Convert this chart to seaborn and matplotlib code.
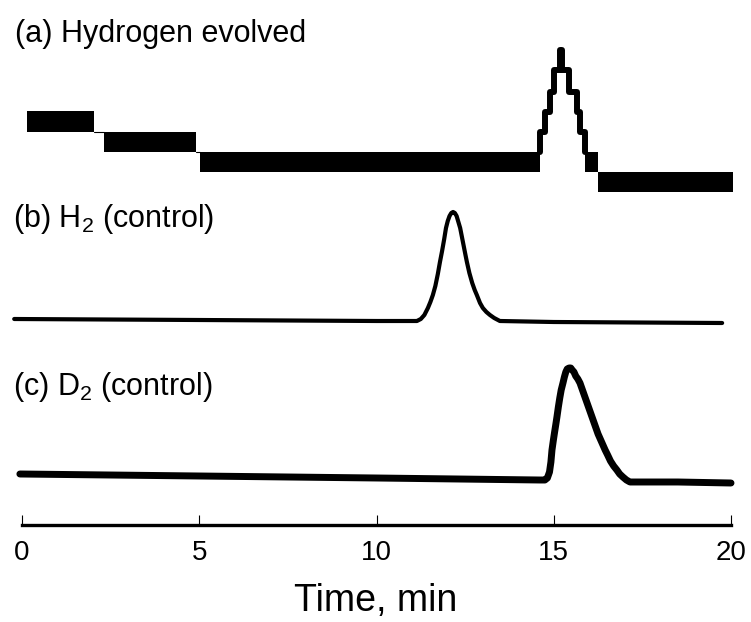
# chromatograms: evolved hydrogen vs H2 / D2 controls

import matplotlib
matplotlib.use("Agg")
import matplotlib.pyplot as plt
import numpy as np
import pandas as pd
import seaborn as sns

# (a) hydrogen evolved -- flickering display, drawn as bands + a step peak
band_start = [0.14, 2.31, 5.02, 15.88, 16.25]
band_end = [2.03, 4.91, 14.61, 16.25, 20.05]
band_low = [60, 40, 20, 20, 0]
band_high = [81, 60, 40, 40, 20]
peak_a_t = [14.61, 14.61, 14.75, 14.89, 15.01, 15.19, 15.24, 15.43, 15.66, 15.74, 15.88]
peak_a_y = [40, 60, 80, 100, 122, 142, 122, 100, 80, 60, 40]
offset_a = 333

# (b) H2 control
h2_t = [-0.22, 5, 10, 11.14, 11.25, 11.35, 11.45, 11.52, 11.59, 11.66, 11.73, 11.79,
        11.85, 11.91, 11.96, 12.01, 12.06, 12.11, 12.16, 12.21, 12.26, 12.31, 12.36,
        12.41, 12.46, 12.51, 12.55, 12.62, 12.7, 12.77, 12.83, 12.92, 13.0, 13.1,
        13.2, 13.32, 13.48, 15, 19.75]
h2_sig = [2, 1, 0, 0, 2, 6, 13, 19, 26, 35, 47, 59,
          70, 82, 93, 100, 105, 108, 109, 108, 105, 99, 93,
          84, 75, 66, 59, 48, 38, 31, 26, 18, 13, 9,
          6, 3, 0, -1, -2]
offset_b = 204

# (c) D2 control
d2_t = [-0.06, 5, 10, 14.6, 14.75, 14.82, 14.88, 14.92, 14.95, 14.99, 15.02, 15.06,
        15.09, 15.13, 15.17, 15.21, 15.26, 15.3, 15.34, 15.38, 15.43, 15.48, 15.52,
        15.57, 15.62, 15.68, 15.74, 15.82, 15.9, 15.99, 16.08, 16.16, 16.25, 16.35,
        16.45, 16.52, 16.6, 16.69, 16.78, 16.86, 16.95, 17.05, 17.15, 18.5, 20]
d2_sig = [6, 4, 2, 0, 0, 2, 8, 18, 30, 40, 47, 56,
          63, 73, 82, 90, 97, 103, 108, 111, 112, 112, 110,
          108, 104, 101, 97, 89, 81, 72, 63, 55, 46, 38,
          30, 25, 19, 14, 10, 6, 3, 0, -2, -2, -3]
offset_c = 45

labels = [r"(a) Hydrogen evolved", r"(b) H$_2$ (control)", r"(c) D$_2$ (control)"]
label_x = [-0.2, -0.25, -0.25]
label_y = [483, 298, 130]

ticks = [0, 5, 10, 15, 20]

sns.set_style("white")
plt.rcParams["font.family"] = ["Liberation Sans", "DejaVu Sans"]
plt.rcParams["mathtext.fontset"] = "custom"
plt.rcParams["mathtext.rm"] = "Liberation Sans"
plt.rcParams["mathtext.default"] = "rm"
plt.rcParams["text.color"] = "black"
plt.rcParams["axes.labelcolor"] = "black"
plt.rcParams["xtick.color"] = "black"

fig = plt.figure(figsize=(7.51, 6.22), dpi=100)
ax = fig.add_axes([0, 97 / 622, 1, 525 / 622])

# trace a
for s, e, lo, hi in zip(band_start, band_end, band_low, band_high):
    ax.fill_between([s, e], offset_a + lo, offset_a + hi, color="black", lw=0)
ax.plot([2.03, 2.31], [offset_a + 60, offset_a + 60], color="black", lw=0.8)
ax.plot([4.91, 5.02], [offset_a + 40, offset_a + 40], color="black", lw=0.8)
peak_df = pd.DataFrame({"t": peak_a_t, "y": np.array(peak_a_y) + offset_a})
sns.lineplot(data=peak_df, x="t", y="y", ax=ax, color="black", lw=4.3,
             drawstyle="steps-post", estimator=None, sort=False)

# traces b and c
h2_df = pd.DataFrame({"t": h2_t, "y": np.array(h2_sig) + offset_b})
sns.lineplot(data=h2_df, x="t", y="y", ax=ax, color="black", lw=3.0,
             estimator=None, sort=False)
d2_df = pd.DataFrame({"t": d2_t, "y": np.array(d2_sig) + offset_c})
sns.lineplot(data=d2_df, x="t", y="y", ax=ax, color="black", lw=5.0,
             estimator=None, sort=False)

for txt, x, y in zip(labels, label_x, label_y):
    ax.text(x, y, txt, fontsize=22, va="baseline", ha="left", color="black")

ax.set_xlim(-22 / 35.45, 729 / 35.45)
ax.set_ylim(0, 525)
for side in ["top", "left", "right"]:
    ax.spines[side].set_visible(False)
ax.spines["bottom"].set_bounds(0, 20)
ax.spines["bottom"].set_linewidth(2.4)
ax.spines["bottom"].set_color("black")
ax.set_yticks([])
ax.set_xticks(ticks)
ax.set_xticklabels([str(t) for t in ticks])
ax.tick_params(axis="x", bottom=True, direction="in", length=7.5, width=0.8,
               color="black", labelcolor="black", labelsize=20, pad=11)
ax.set_xlabel("Time, min", fontsize=27, labelpad=12)
ax.set_ylabel("")

fig.savefig("out.png", dpi=100)
